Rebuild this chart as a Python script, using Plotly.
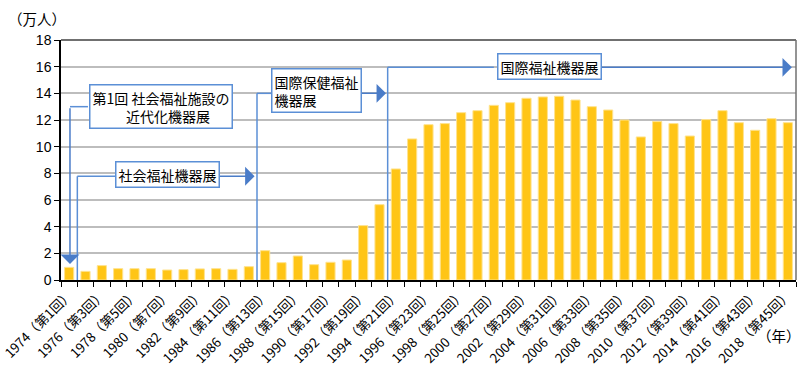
import plotly.graph_objects as go

years = list(range(1974, 2019))
rounds = list(range(1, 46))
visitors = [0.95, 0.65, 1.08, 0.85, 0.85, 0.85, 0.75, 0.78, 0.83, 0.85,
            0.80, 1.00, 2.20, 1.30, 1.80, 1.15, 1.33, 1.50, 4.08, 5.65,
            8.33, 10.58, 11.65, 11.73, 12.55, 12.70, 13.10, 13.30, 13.63, 13.73,
            13.78, 13.50, 13.00, 12.75, 12.00, 10.73, 11.88, 11.73, 10.80, 12.03,
            12.70, 11.80, 11.23, 12.10, 11.80]
labels = [f"{y}（第{r}回）" for y, r in zip(years, rounds)]
xs = list(range(len(years)))

JP = "Noto Sans CJK JP"
BLUE = "#5B8FD6"
AH = "#4A7CC8"

fig = go.Figure()
fig.add_trace(go.Bar(x=xs, y=visitors, width=0.56,
                     marker=dict(color="#FFC516", line=dict(color="#FFE38F", width=1))))

fig.update_layout(
    width=803, height=368,
    margin=dict(l=61, r=7, t=40, b=88, autoexpand=False),
    plot_bgcolor="white", paper_bgcolor="white",
    showlegend=False,
    font=dict(family=JP, size=13, color="#000"),
    xaxis=dict(range=[-0.5, 44.5], tickmode="array", automargin=False,
               tickvals=xs[::2], ticktext=labels[::2], tickangle=-45,
               ticklabeloverflow="allow",
               ticks="", showgrid=False, zeroline=False,
               showline=True, linecolor="#000", linewidth=1.5,
               mirror=False,
               tickfont=dict(family=JP, size=13.2),
               minor=dict(tickmode="linear", tick0=-0.5, dtick=1,
                          ticks="outside", ticklen=5, tickcolor="#000",
                          tickwidth=1, showgrid=False)),
    yaxis=dict(range=[0, 18], dtick=2, tickmode="linear", automargin=False,
               showgrid=True, gridcolor="#BDBDBD", gridwidth=1.5,
               zeroline=False, showline=True, linecolor="#000", linewidth=1.5,
               ticks="outside", ticklen=5, tickcolor="#000",
               tickfont=dict(family="Liberation Sans, Arial", size=14)),
)

# plot frame (top and right)
fig.add_shape(type="line", xref="paper", yref="paper", x0=0, x1=1, y0=1, y1=1,
              line=dict(color="#404040", width=1.5))
fig.add_shape(type="line", xref="paper", yref="paper", x0=1, x1=1, y0=0, y1=1,
              line=dict(color="#707070", width=1.5))

def seg(x0, y0, x1, y1):
    fig.add_shape(type="line", xref="x", yref="y", x0=x0, y0=y0, x1=x1, y1=y1,
                  line=dict(color=BLUE, width=1.5), layer="above")

def arrow(x0, y0, x1, y1):
    fig.add_annotation(x=x1, y=y1, ax=x0, ay=y0, xref="x", yref="y",
                       axref="x", ayref="y", text="", showarrow=True,
                       arrowhead=1, arrowsize=2.1, arrowwidth=1.5,
                       arrowcolor=AH)

def box(x, y, text, align="center"):
    fig.add_annotation(x=x, y=y, xref="x", yref="y", text=text, showarrow=False,
                       align=align, bgcolor="white", bordercolor=BLUE,
                       borderwidth=1.5, borderpad=2,
                       font=dict(family=JP, size=14, color="#000"))

# 第1回 社会福祉施設の近代化機器展
seg(1.15, 13.0, 0.05, 13.0)
arrow(0.05, 13.0, 0.05, 1.2)
box(5.6, 13.05, "第1回 社会福祉施設の<br>　近代化機器展")

# 社会福祉機器展
seg(0.5, 0, 0.5, 7.78)
seg(0.5, 7.78, 3.0, 7.78)
arrow(8.5, 7.78, 11.35, 7.78)
box(6.0, 7.9, "社会福祉機器展")

# 国際保健福祉機器展
seg(11.5, 0, 11.5, 14.0)
seg(11.5, 14.0, 12.5, 14.0)
arrow(17.5, 14.0, 19.4, 14.0)
box(15.15, 14.2, "国際保健福祉<br>機器展", align="left")

# 国際福祉機器展
seg(19.5, 0, 19.5, 15.95)
seg(19.5, 15.95, 26.0, 15.95)
arrow(32.5, 15.95, 44.25, 15.95)
box(29.4, 16.0, "国際福祉機器展")

# axis titles
fig.add_annotation(x=-0.075, y=1.09, xref="paper", yref="paper", xanchor="left",
                   yanchor="middle", text="（万人）", showarrow=False,
                   font=dict(family=JP, size=14.5))
fig.add_annotation(x=1.009, y=-0.23, xref="paper", yref="paper", xanchor="right",
                   yanchor="middle", text="（年）", showarrow=False,
                   font=dict(family=JP, size=14.5))

fig.write_html("out.html")
